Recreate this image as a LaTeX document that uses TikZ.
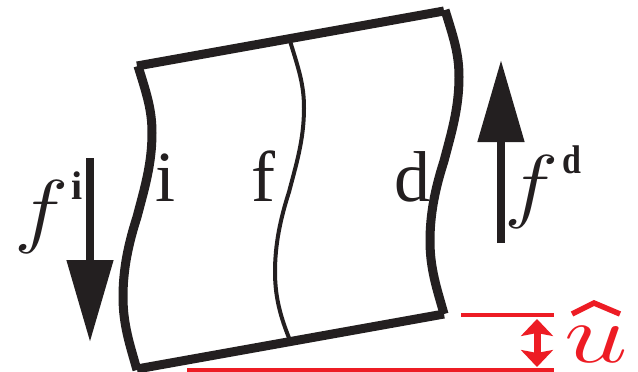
\documentclass[tikz,border=0pt]{standalone}
\usepackage{fix-cm}
\usepackage{fontspec}
\setmainfont{Liberation Serif}
\usetikzlibrary{arrows.meta}
\definecolor{inkblack}{HTML}{231F20}
\definecolor{slipred}{HTML}{ED1C24}
\tikzset{
    wall/.style={inkblack, line width=9pt},
    force/.style={inkblack, line width=8pt, -{Triangle[length=82pt, width=45pt]}},
    zone/.style={inkblack, inner sep=0pt, anchor=base, font=\fontsize{72}{72}\selectfont},
    forcesym/.style={inkblack, inner sep=0pt, anchor=base, font=\fontsize{82}{82}\selectfont},
    forcesup/.style={inkblack, inner sep=0pt, anchor=base, font=\fontsize{40}{40}\selectfont\bfseries},
    slipline/.style={slipred, line width=3.5pt}
}
\newcommand{\wavyside}{(138,66) .. controls (147,95) and (152,110) .. (152,133)
    .. controls (152,165) and (144,190) .. (137,217)
    .. controls (128,245) and (123,270) .. (123,297)
    .. controls (123,325) and (130,345) .. (137,370)}
\begin{document}
\begin{tikzpicture}[x=1pt, y=-1pt]
    \useasboundingbox (0,0) rectangle (638,372);

    % Top and bottom edges
    \draw[wall] (137,66) -- (444,11);
    \draw[wall] (137,369) -- (444,314);

    % Sides and middle line
    \draw[wall] \wavyside;
    \draw[wall, shift={(307,-56)}] \wavyside;
    \draw[inkblack, line width=4pt, shift={(152,-25)}] (138,66) .. controls (147,95) and (152,110) .. (152,133)
        .. controls (152,165) and (144,190) .. (137,217)
        .. controls (128,245) and (123,270) .. (123,297)
        .. controls (123,325) and (130,345) .. (137,363);

    % Zone letters
    \node[zone] (zoneI) at (166,201) {i};
    \node[zone] (zoneF) at (263,201) {f};
    \node[zone] (zoneD) at (412,201) {d};

    % Force on the left
    \coordinate (fiTail) at (90,158);
    \coordinate (fiTip) at (90,342);
    \draw[force] (fiTail) -- (fiTip);
    \node[forcesym] (fiSym) at (42,237) {\scalebox{1.12}[1]{$f$}};
    \node[forcesup] (fiSup) at (77,199) {i};

    % Force on the right
    \coordinate (fdTail) at (501,243);
    \coordinate (fdTip) at (501,60);
    \draw[force] (fdTail) -- (fdTip);
    \node[forcesym] (fdSym) at (532,212) {\scalebox{1.12}[1]{$f$}};
    \node[forcesup] (fdSup) at (572,173) {\scalebox{0.85}[1]{d}};

    % Slip
    \coordinate (slipTopL) at (461,315);
    \coordinate (slipTopR) at (554,315);
    \coordinate (slipBotL) at (187,370);
    \coordinate (slipBotR) at (554,370);
    \draw[slipline] (slipTopL) -- (slipTopR);
    \draw[slipline] (slipBotL) -- (slipBotR);
    \coordinate (slipUp) at (537,319);
    \coordinate (slipDown) at (537,367);
    \draw[slipred, line width=7pt, {Stealth[length=17pt, width=32pt, inset=3pt]}-{Stealth[length=17pt, width=32pt, inset=3pt]}] (slipUp) -- (slipDown);
    \node[slipred, inner sep=0pt, anchor=base, font=\fontsize{95}{95}\selectfont] (slipSym) at (596,362) {\scalebox{1.2}[0.88]{$u$}};
    \coordinate (hatL) at (572,314);
    \coordinate (hatTop) at (594,303);
    \coordinate (hatR) at (620,314);
    \draw[slipred, line width=5.5pt] (hatL) -- (hatTop) -- (hatR);
\end{tikzpicture}
\end{document}
